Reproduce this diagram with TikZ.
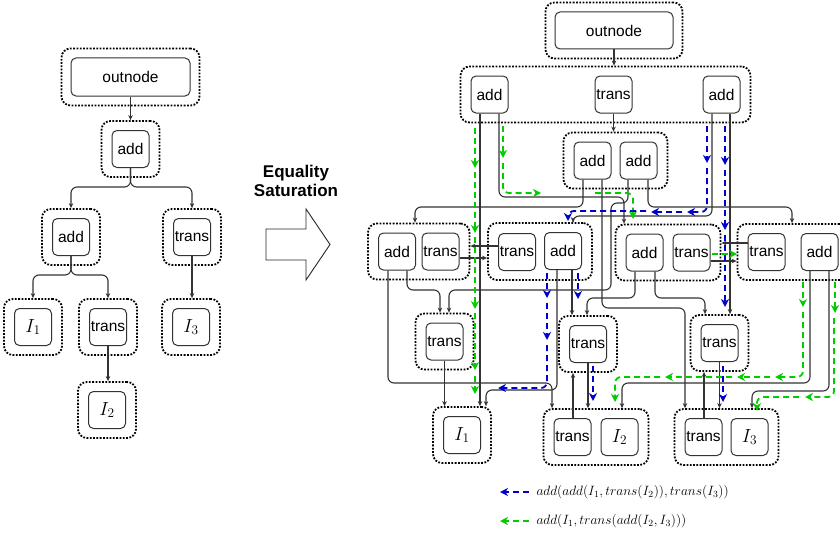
\documentclass[tikz,border=0pt]{standalone}
\usepackage{fix-cm}
\usepackage[no-math]{fontspec}
\setmainfont{Liberation Sans}
\usetikzlibrary{arrows.meta,fit,calc}

\definecolor{pathblue}{HTML}{0000CC}
\definecolor{pathgreen}{HTML}{00CC00}

\tikzset{
  opnode/.style={draw=black!80, line width=1pt, rounded corners=5pt,
    minimum width=37pt, minimum height=37pt, inner sep=0pt,
    font=\fontsize{15.5}{18}\selectfont},
  leaf/.style={opnode, font=\fontsize{19}{21}\selectfont},
  eclass/.style={draw=black, line width=1.8pt, dash pattern=on 1.8pt off 1.5pt,
    rounded corners=9pt, inner xsep=10pt, inner ysep=9pt},
  link/.style={draw=black!80, line width=1.1pt, rounded corners=6pt,
    -{Stealth[length=5pt,width=4.5pt]}},
  hl/.style={line width=1.8pt, dash pattern=on 6pt off 4pt, rounded corners=6pt,
    -{Stealth[length=8pt,width=8pt,inset=2.5pt]}},
  hlblue/.style={hl, draw=pathblue},
  hlgreen/.style={hl, draw=pathgreen},
}

\begin{document}
\begin{tikzpicture}[x=1pt,y=-1pt]
\useasboundingbox (0,0) rectangle (840,535);

% ---------------- input expression tree ----------------
\node[opnode, minimum width=119pt, minimum height=38pt] (outL) at (130.5,77) {outnode};
\node[opnode] (addL1)   at (130.5,149) {add};
\node[opnode] (addL2)   at (71,237)    {add};
\node[opnode] (transL1) at (192,237)   {trans};
\node[leaf]   (I1L)     at (33,327)    {$I_1$};
\node[opnode] (transL2) at (108,327)   {trans};
\node[leaf]   (I3L)     at (191,327)   {$I_3$};
\node[leaf]   (I2L)     at (107,410)   {$I_2$};

\node[eclass, fit=(outL), inner xsep=9pt] (gOutL) {};
\node[eclass, fit=(addL1)]   (gAddL1)   {};
\node[eclass, fit=(addL2)]   (gAddL2)   {};
\node[eclass, fit=(transL1)] (gTransL1) {};
\node[eclass, fit=(I1L)]     (gI1L)     {};
\node[eclass, fit=(transL2)] (gTransL2) {};
\node[eclass, fit=(I3L)]     (gI3L)     {};
\node[eclass, fit=(I2L)]     (gI2L)     {};

\draw[link] (outL.south) -- (outL.south |- gAddL1.north);
\draw[link] (addL1.south) -- (addL1.south |- 0,187) -- (gAddL2.north |- 0,187) -- (gAddL2.north);
\draw[link] (addL1.south) -- (addL1.south |- 0,187) -- (gTransL1.north |- 0,187) -- (gTransL1.north);
\draw[link] (addL2.south) -- (addL2.south |- 0,275) -- (gI1L.north |- 0,275) -- (gI1L.north);
\draw[link] (addL2.south) -- (addL2.south |- 0,275) -- (gTransL2.north |- 0,275) -- (gTransL2.north);
\draw[link] (transL2.south) -- (transL2.south |- gI2L.north);
\draw[link] (transL1.south) -- (transL1.south |- gI3L.north);

% ---------------- rewrite arrow ----------------
\node[font=\bfseries\fontsize{17}{19}\selectfont, align=center] (eqsat) at (296,180.5) {Equality\\Saturation};
\draw[black!85, line width=0.9pt, fill=white]
  (266,229) -- (306,229) -- (306,209) -- (330,244.5) -- (306,280) -- (306,260) -- (266,260) -- cycle;

% ---------------- saturated e-graph ----------------
\node[opnode, minimum width=118pt] (outR) at (614,30.5) {outnode};
\node[opnode] (addT1)  at (489.5,94.5) {add};
\node[opnode] (transT) at (613.5,94.5) {trans};
\node[opnode] (addT2)  at (721.5,94.5) {add};
\node[opnode] (addS1)  at (592.5,160.5) {add};
\node[opnode] (addS2)  at (638.5,160.5) {add};
\node[opnode] (addA)   at (397,251.5) {add};
\node[opnode] (transA) at (440.5,251.5) {trans};
\node[opnode] (transB) at (517,252) {trans};
\node[opnode] (addB)   at (563,251) {add};
\node[opnode] (addC)   at (644.5,252.5) {add};
\node[opnode] (transC) at (691.5,252.5) {trans};
\node[opnode] (transD) at (766.5,252) {trans};
\node[opnode] (addD)   at (819.5,252) {add};
\node[opnode] (transE) at (444.5,341.5) {trans};
\node[opnode] (transF) at (588,344) {trans};
\node[opnode] (transG) at (719.5,343) {trans};
\node[leaf]   (I1R)    at (462,435) {$I_1$};
\node[opnode] (transI) at (572.5,437) {trans};
\node[leaf]   (I2R)    at (619.5,437) {$I_2$};
\node[opnode] (transJ) at (703.5,437) {trans};
\node[leaf]   (I3R)    at (749.5,437) {$I_3$};

\node[eclass, fit=(outR), inner xsep=9pt] (gOutR) {};
\node[eclass, fit=(addT1)(transT)(addT2)] (gT) {};
\node[eclass, fit=(addS1)(addS2)] (gS) {};
\node[eclass, fit=(addA)(transA)] (gA) {};
\node[eclass, fit=(transB)(addB)] (gB) {};
\node[eclass, fit=(addC)(transC)] (gC) {};
\node[eclass, fit=(transD)(addD)] (gD) {};
\node[eclass, fit=(transE)] (gE) {};
\node[eclass, fit=(transF)] (gF) {};
\node[eclass, fit=(transG)] (gG) {};
\node[eclass, fit=(I1R)] (gH) {};
\node[eclass, fit=(transI)(I2R)] (gI) {};
\node[eclass, fit=(transJ)(I3R)] (gJ) {};

% root class
\draw[link] (outR.south) -- (outR.south |- gT.north);
\draw[link] (transT.south) -- (transT.south |- gS.north);
\draw[link] (addT1.south -| 480,0) -- (480,0 |- gH.north);
\draw[link] (addT1.south -| 499,0) -- (499,197) -- (624,197) -- (624,0 |- gC.north);
\draw[link] (addT2.south -| 712,0) -- (712,216) -- (573,216) -- (573,0 |- gB.north);
\draw[link] (addT2.south -| 730,0) -- (730,0 |- gG.north);
% transposed root class
\draw[link] (addS1.south -| 583,0) -- (583,207) -- (415,207) -- (415,0 |- gA.north);
\draw[link] (addS1.south -| 602,0) -- (602,308) -- (685,308) -- (685,0 |- gJ.north);
\draw[link] (addS2.south -| 628,0) -- (628,203) -- (611,203) -- (611,290) -- (449,290) -- (449,0 |- gE.north);
\draw[link] (addS2.south -| 648,0) -- (648,207) -- (792,207) -- (792,0 |- gD.north);
% middle row
\draw[link] (addA.south -| 388,0) -- (388,383) -- (552,383) -- (552,0 |- gI.north);
\draw[link] (addA.south -| 407,0) -- (407,290) -- (440,290) -- (440,0 |- gE.north);
\draw[link] (transA.east |- 0,258) -- (gB.west |- 0,258);
\draw[link] (transB.west |- 0,246) -- (gA.east |- 0,246);
\draw[link] (addB.south -| 557,0) -- (557,390) -- (486,390) -- (486,0 |- gH.north);
\draw[link] (addB.south -| 572,0) -- (572,0 |- gF.north);
\draw[link] (addC.south -| 635,0) -- (635,298) -- (587,298) -- (587,0 |- gF.north);
\draw[link] (addC.south -| 655,0) -- (655,298) -- (705,298) -- (705,0 |- gG.north);
\draw[link] (transC.east |- 0,261) -- (gD.west |- 0,261);
\draw[link] (transD.west |- 0,243) -- (gC.east |- 0,243);
\draw[link] (addD.south -| 810,0) -- (810,383) -- (622,383) -- (622,0 |- gI.north);
\draw[link] (addD.south -| 829,0) -- (829,391) -- (752,391) -- (752,0 |- gJ.north);
% lower rows
\draw[link] (transE.south) -- (transE.south |- gH.north);
\draw[link] (transF.south) -- (transF.south |- gI.north);
\draw[link] (transG.south) -- (transG.south |- gJ.north);
\draw[link] (transI.north -| 573,0) -- (573,0 |- gF.south);
\draw[link] (transJ.north -| 704,0) -- (704,0 |- gG.south);

% extraction of add(I1, trans(add(I2, I3)))
\draw[hlgreen] (475,128) -- (475,168);
\draw[hlgreen] (475,172) -- (475,233);
\draw[hlgreen] (475,237) -- (475,309);
\draw[hlgreen] (475,313) -- (475,370);
\draw[hlgreen] (475,376) -- (475,394);
\draw[hlgreen] (503,126) -- (503,158);
\draw[hlgreen] (503,163) -- (503,193) -- (541,193);
\draw[hlgreen] (595,193) -- (633,193) -- (633,219);
\draw[hlgreen] (712,254) -- (737,254);
\draw[hlgreen] (803,282) -- (803,307);
\draw[hlgreen] (803,312) -- (803,377) -- (775,377);
\draw[hlgreen] (770,377) -- (737,377);
\draw[hlgreen] (732,377) -- (665,377);
\draw[hlgreen] (660,377) -- (615,377) -- (615,402);
\draw[hlgreen] (835,282) -- (835,313);
\draw[hlgreen] (834,318) -- (834,397) -- (805,397);
\draw[hlgreen] (799,397) -- (757,397) -- (757,411);

% extraction of add(add(I1, trans(I2)), trans(I3))
\draw[hlblue] (707,126) -- (707,163);
\draw[hlblue] (707,168) -- (707,212) -- (687,212);
\draw[hlblue] (682,212) -- (651,212);
\draw[hlblue] (646,211) -- (568,211) -- (568,221);
\draw[hlblue] (725,126) -- (725,165);
\draw[hlblue] (725,170) -- (725,230);
\draw[hlblue] (725,235) -- (725,307);
\draw[hlblue] (723,366) -- (723,402);
\draw[hlblue] (547,273) -- (547,298);
\draw[hlblue] (547,303) -- (547,340);
\draw[hlblue] (547,345) -- (547,388) -- (498,388);
\draw[hlblue] (578,273) -- (578,299);
\draw[hlblue] (593,366) -- (593,401);

% legend
\node[anchor=west, font=\fontsize{13.5}{15}\selectfont] (legBlue) at (533,492)
  {$add(add(I_1,trans(I_2)),trans(I_3))$};
\node[anchor=west, font=\fontsize{13.5}{15}\selectfont] (legGreen) at (533,521)
  {$add(I_1,trans(add(I_2,I_3)))$};
\draw[hlblue] ([xshift=-4pt]legBlue.west) -- ++(-29,0);
\draw[hlgreen] ([xshift=-4pt]legGreen.west) -- ++(-29,0);
\end{tikzpicture}
\end{document}
